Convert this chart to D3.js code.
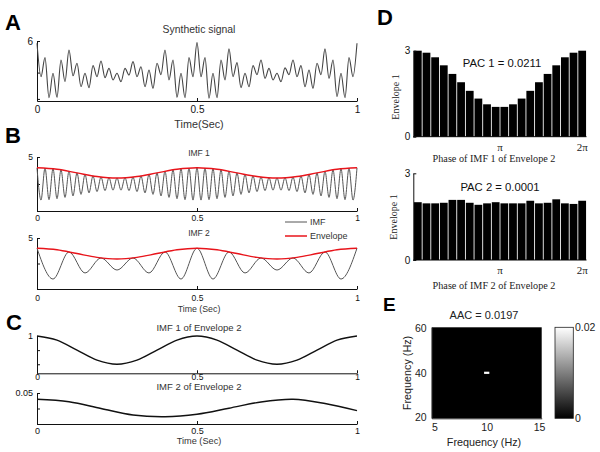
<!DOCTYPE html>
<html><head><meta charset="utf-8">
<script src="https://cdn.jsdelivr.net/npm/d3@7"></script>
<style>body{margin:0;background:#fff} svg{display:block}</style>
</head><body>
<svg id="c" width="600" height="452"></svg>
<script>
// ---------------- DATA ----------------
// Panel A: extrema of the synthetic signal, evenly spaced over 0..1 s
const signalExtrema = [5.78, 2.61, 4.42, 0.61, 2.93, 0.65, 4.2, 2.14, 5.15, 2.7, 3.88, 1.66, 2.93, 1.57, 3.66, 2.61, 4.1, 2.52, 3.4, 2.3,
  2.93, 2.14, 3.4, 2.77, 4.04, 2.61, 3.56, 1.66, 3.25, 1.5, 3.88, 2.8, 5.15, 2.3, 4.2, 0.65, 2.93, 0.61, 4.42, 2.61,
  5.85, 2.61, 4.42, 0.56, 2.93, 0.61, 4.2, 2.3, 5.25, 2.61, 3.95, 1.57, 2.93, 1.66, 3.66, 2.8, 4.2, 2.45, 3.4, 2.3,
  2.93, 2.14, 3.45, 2.8, 4.2, 2.61, 3.66, 1.66, 3.25, 1.5, 3.88, 2.8, 5.25, 2.45, 4.2, 0.71, 2.93, 0.61, 4.42, 2.61, 5.78];
// Panel B: IMF 1 extrema and its envelope
const imf1Extrema = [4.00, 1.01, 3.98, 1.05, 3.91, 1.14, 3.81, 1.26, 3.68, 1.40, 3.53, 1.54, 3.39, 1.68, 3.25, 1.80, 3.15, 1.89, 3.08, 1.93,
  3.06, 1.93, 3.08, 1.89, 3.15, 1.80, 3.25, 1.68, 3.39, 1.54, 3.53, 1.40, 3.68, 1.26, 3.81, 1.14, 3.91, 1.05, 3.98, 1.01,
  4.00, 1.01, 3.98, 1.05, 3.91, 1.14, 3.81, 1.26, 3.68, 1.40, 3.53, 1.54, 3.39, 1.68, 3.25, 1.80, 3.15, 1.89, 3.08, 1.93,
  3.06, 1.93, 3.08, 1.89, 3.15, 1.80, 3.25, 1.68, 3.39, 1.54, 3.53, 1.40, 3.68, 1.26, 3.81, 1.14, 3.91, 1.05, 3.98, 1.01, 4.00];
const imf1Envelope = [4.00, 3.86, 3.53, 3.20, 3.06, 3.20, 3.53, 3.86, 4.00, 3.86, 3.53, 3.20, 3.06, 3.20, 3.53, 3.86, 4.00];
// Panel B: IMF 2 extrema and its envelope
const imf2Extrema = [4.00, 0.98, 3.63, 1.57, 3.04, 1.86, 3.04, 1.57, 3.63, 0.98, 4.00, 0.98, 3.63, 1.57, 3.04, 1.86, 3.04, 1.57, 3.63, 0.98, 4.00];
const imf2Envelope = [4.00, 3.85, 3.47, 3.10, 2.94, 3.10, 3.47, 3.85, 4.00, 3.85, 3.47, 3.10, 2.94, 3.10, 3.47, 3.85, 4.00];
// Panel C: IMFs of envelope 2
const envImf1 = [1, 0.71, 0, -0.71, -1, -0.71, 0, 0.71, 1, 0.71, 0, -0.71, -1, -0.71, 0, 0.71, 1];
const envImf2 = [0.0398, 0.0358, 0.0250, 0.0145, 0.0118, 0.0158, 0.0255, 0.0355, 0.0398, 0.0330, 0.0215];
// Panel D: phase-binned amplitude
const pac1 = [3.0, 2.93, 2.77, 2.49, 2.19, 1.90, 1.60, 1.33, 1.13, 1.04, 1.04, 1.13, 1.33, 1.60, 1.90, 2.19, 2.49, 2.77, 2.93, 3.0];
const pac2 = [2.0, 1.96, 1.96, 1.98, 2.08, 2.08, 1.98, 1.91, 1.96, 2.0, 1.96, 1.96, 1.96, 2.05, 1.96, 1.98, 2.1, 1.96, 1.94, 2.05];
const pacTicks = [Math.PI, 2 * Math.PI];
const pacTickLabels = ["π", "2π"];
// Panel E: amplitude-amplitude coupling map (zero everywhere except one cell)
const aacCells = [{ fx: 10, fy: 40, v: 0.0197 }];
const aacXTicks = [5, 10, 15];
const aacYTicks = [20, 40, 60];
const aacMax = 0.02;
// ticks
const timeTicks = [0, 0.5, 1];
const timeTickLabels = ["0", "0.5", "1"];

// ---------------- DRAWING ----------------
const SANS = "'Liberation Sans', Arial, sans-serif";
const SERIF = "'Liberation Serif', 'Times New Roman', serif";
const svg = d3.select('#c');
const xT = d3.scaleLinear().domain([0, 1]).range([37, 357]);

function series(arr) { return arr.map((v, i) => ({ t: i / (arr.length - 1), v })); }

function timePanel(o) {
  const y = d3.scaleLinear().domain(o.domain).range(o.range);
  const g = svg.append('g');
  g.append('g').attr('transform', `translate(0,${o.range[0]})`)
    .call(d3.axisBottom(xT).tickValues(timeTicks).tickFormat((d, i) => timeTickLabels[i])
      .tickSize(-3).tickSizeOuter(0).tickPadding(o.xPad))
    .attr('font-size', o.xfs || o.fs).attr('font-family', SANS).attr('color', '#111');
  g.append('g').attr('transform', `translate(37,0)`)
    .call(d3.axisLeft(y).tickValues(o.yTicks).tickFormat(d => d === o.yLab ? o.yLabText : '')
      .tickSize(-3).tickSizeOuter(0).tickPadding(4))
    .attr('font-size', o.fs).attr('font-family', SANS).attr('color', '#111');
  g.append('text').attr('x', 199).attr('y', o.titleY).attr('text-anchor', 'middle')
    .attr('font-family', SANS).attr('font-size', o.titleFs).attr('fill', '#333').text(o.title);
  if (o.xlabel) g.append('text').attr('x', 199).attr('y', o.xlabelY).attr('text-anchor', 'middle')
    .attr('font-family', SANS).attr('font-size', o.xlabelFs).attr('fill', '#333').text(o.xlabel);
  o.lines.forEach(L => {
    const line = d3.line().x(d => xT(d.t)).y(d => y(d.v)).curve(L.curve || d3.curveMonotoneX);
    g.append('path').datum(series(L.data)).attr('d', line).attr('fill', 'none')
      .attr('stroke', L.color).attr('stroke-width', L.w);
  });
  return g;
}

// Panel A
timePanel({ domain: [0.3, 6], range: [101, 41], yTicks: [0.5, 3, 6], yLab: 6, yLabText: '6', fs: 10, xPad: 5,
  title: 'Synthetic signal', titleY: 33, titleFs: 10.4, xlabel: 'Time(Sec)', xlabelY: 128, xlabelFs: 10.8,
  lines: [{ data: signalExtrema, color: '#444', w: 1.1 }] });
// Panel B top
timePanel({ domain: [0, 5], range: [211, 157], yTicks: [0, 2.5, 5], yLab: 5, yLabText: '5', fs: 8.5, xPad: 4,
  title: 'IMF 1', titleY: 155.5, titleFs: 8.5,
  lines: [{ data: imf1Extrema, color: '#555', w: 1 }, { data: imf1Envelope, color: '#e8141b', w: 1.5 }] });
// Panel B bottom
timePanel({ domain: [0, 5], range: [289, 238], yTicks: [0, 2.5, 5], yLab: 5, yLabText: '5', fs: 8.5, xPad: 5.5,
  title: 'IMF 2', titleY: 236, titleFs: 8.5, xlabel: 'Time (Sec)', xlabelY: 312, xlabelFs: 8.8,
  lines: [{ data: imf2Extrema, color: '#555', w: 1 }, { data: imf2Envelope, color: '#e8141b', w: 1.5 }] });
// Panel C top
timePanel({ domain: [-1.64, 1], range: [373.3, 336], yTicks: [-1, 0, 1], yLab: 1, yLabText: '1', fs: 9, xfs: 8.5, xPad: 0.5,
  title: 'IMF 1 of Envelope 2', titleY: 330.5, titleFs: 9.5,
  lines: [{ data: envImf1, color: '#111', w: 1.4 }] });
// Panel C bottom
timePanel({ domain: [0, 0.05], range: [424, 393], yTicks: [0, 0.025, 0.05], yLab: 0.05, yLabText: '0.05', fs: 9, xPad: 4,
  title: 'IMF 2 of Envelope 2', titleY: 390, titleFs: 9.5, xlabel: 'Time (Sec)', xlabelY: 443.5, xlabelFs: 9.2,
  lines: [{ data: envImf2, color: '#111', w: 1.4, curve: d3.curveCatmullRom }] });

// Legend (panel B)
const leg = svg.append('g').attr('font-family', SANS).attr('font-size', 9).attr('fill', '#333');
[['IMF', '#555', 1, 222], ['Envelope', '#e8141b', 1.5, 236]].forEach(([lab, col, w, yy]) => {
  leg.append('line').attr('x1', 285).attr('x2', 307).attr('y1', yy).attr('y2', yy).attr('stroke', col).attr('stroke-width', w);
  leg.append('text').attr('x', 310).attr('y', yy + 3.2).text(lab);
});

// Panel D
function pacPanel(data, o) {
  const g = svg.append('g');
  const xb = d3.scaleBand().domain(data.map((d, i) => i)).range([413.5, 586.5]).paddingInner(0.1).paddingOuter(0.05);
  const bw = xb.bandwidth();
  const xp = d3.scaleLinear().domain([0, 2 * Math.PI]).range([xb(0) + bw / 2, xb(data.length - 1) + bw / 2]);
  const y = d3.scaleLinear().domain([0, 3]).range(o.range);
  g.selectAll('rect').data(data).join('rect')
    .attr('x', (d, i) => xb(i)).attr('width', bw)
    .attr('y', d => y(d)).attr('height', d => y(0) - y(d)).attr('fill', '#000');
  g.append('line').attr('x1', 413.3).attr('x2', 586.5).attr('y1', y(0)).attr('y2', y(0)).attr('stroke', '#000');
  g.append('g').attr('transform', 'translate(413.3,0)')
    .call(d3.axisLeft(y).tickValues([0, 3]).tickFormat(d3.format('d')).tickSize(-3).tickSizeOuter(0).tickPadding(3))
    .attr('font-size', 10).attr('font-family', SANS).attr('color', '#111');
  g.selectAll('text.pt').data(pacTicks).join('text').attr('class', 'pt')
    .attr('x', d => xp(d)).attr('y', y(0) + 14).attr('text-anchor', 'middle')
    .attr('font-family', SERIF).attr('font-size', 11).attr('fill', '#222')
    .text((d, i) => pacTickLabels[i]);
  g.append('text').attr('x', 494).attr('y', o.xlabY).attr('text-anchor', 'middle')
    .attr('font-family', SERIF).attr('font-size', 10.2).attr('fill', '#222').text(o.xlab);
  g.append('text').attr('transform', `translate(${o.ylabX},${o.ylabY}) rotate(-90)`).attr('text-anchor', 'middle')
    .attr('font-family', SERIF).attr('font-size', 10).attr('fill', '#222').text('Envelope 1');
  g.append('text').attr('x', o.pacX).attr('y', o.pacY).attr('text-anchor', 'middle')
    .attr('font-family', SANS).attr('font-size', 11.3).attr('fill', '#111').text(o.pac);
}
pacPanel(pac1, { range: [136.7, 50.7], xlab: 'Phase of IMF 1 of Envelope 2', xlabY: 162,
  ylabX: 398.5, ylabY: 97, pac: 'PAC 1 = 0.0211', pacX: 502, pacY: 67 });
pacPanel(pac2, { range: [260, 173.3], xlab: 'Phase of IMF 2 of Envelope 2', xlabY: 288.5,
  ylabX: 397, ylabY: 217, pac: 'PAC 2 = 0.0001', pacX: 500, pacY: 190.7 });

// Panel E
const xE = d3.scaleLinear().domain([4.75, 15.25]).range([431.7, 541.7]);
const yE = d3.scaleLinear().domain([19.5, 60.5]).range([418.3, 327.3]);
const gray = d3.scaleLinear().domain([0, aacMax]).range(['#000', '#fff']).clamp(true);
const gE = svg.append('g');
gE.append('rect').attr('x', xE(4.75)).attr('y', yE(60.5)).attr('width', xE(15.25) - xE(4.75))
  .attr('height', yE(19.5) - yE(60.5)).attr('fill', gray(0));
gE.selectAll('rect.cell').data(aacCells).join('rect').attr('class', 'cell')
  .attr('x', d => xE(d.fx - 0.25)).attr('width', xE(10.5) - xE(10))
  .attr('y', d => yE(d.fy + 0.5)).attr('height', yE(40) - yE(41))
  .attr('fill', d => gray(d.v));
gE.append('g').attr('transform', `translate(0,${yE(19.5)})`)
  .call(d3.axisBottom(xE).tickValues(aacXTicks).tickSize(0).tickSizeOuter(0).tickPadding(5))
  .attr('font-size', 10.5).attr('font-family', SANS).attr('color', '#222');
gE.append('g').attr('transform', `translate(${xE(4.75)},0)`)
  .call(d3.axisLeft(yE).tickValues(aacYTicks).tickSize(0).tickSizeOuter(0).tickPadding(5))
  .attr('font-size', 10.5).attr('font-family', SANS).attr('color', '#222');
gE.append('text').attr('x', 484).attr('y', 319).attr('text-anchor', 'middle')
  .attr('font-family', SANS).attr('font-size', 11).attr('fill', '#222').text('AAC = 0.0197');
gE.append('text').attr('x', 484).attr('y', 445.5).attr('text-anchor', 'middle')
  .attr('font-family', SANS).attr('font-size', 10.8).attr('fill', '#222').text('Frequency (Hz)');
gE.append('text').attr('transform', 'translate(410.5,373) rotate(-90)').attr('text-anchor', 'middle')
  .attr('font-family', SANS).attr('font-size', 10.8).attr('fill', '#222').text('Frequency (Hz)');
// colorbar
const cb = d3.scaleLinear().domain([0, aacMax]).range([418.3, 327.3]);
const defs = svg.append('defs');
const grad = defs.append('linearGradient').attr('id', 'cbg').attr('x1', 0).attr('y1', 1).attr('x2', 0).attr('y2', 0);
[0, aacMax].forEach((v, i) => grad.append('stop').attr('offset', i).attr('stop-color', gray(v)));
gE.append('rect').attr('x', 555).attr('y', cb(aacMax)).attr('width', 18.3).attr('height', cb(0) - cb(aacMax))
  .attr('fill', 'url(#cbg)').attr('stroke', '#222').attr('stroke-width', 0.8);
[[aacMax, '0.02'], [0, '0']].forEach(([v, lab]) => {
  gE.append('text').attr('x', 575).attr('y', cb(v) + 3.8).attr('font-family', SANS).attr('font-size', 10.5)
    .attr('fill', '#222').text(lab);
});

// Panel letters
[['A', 5, 30, 22], ['B', 5, 143, 22], ['C', 6, 330, 22], ['D', 377, 25, 22], ['E', 383, 311, 19]].forEach(([l, x, y, s]) => {
  svg.append('text').attr('x', x).attr('y', y).attr('font-family', SANS).attr('font-weight', 'bold')
    .attr('font-size', s).attr('fill', '#000').text(l);
});
</script>
</body></html>
